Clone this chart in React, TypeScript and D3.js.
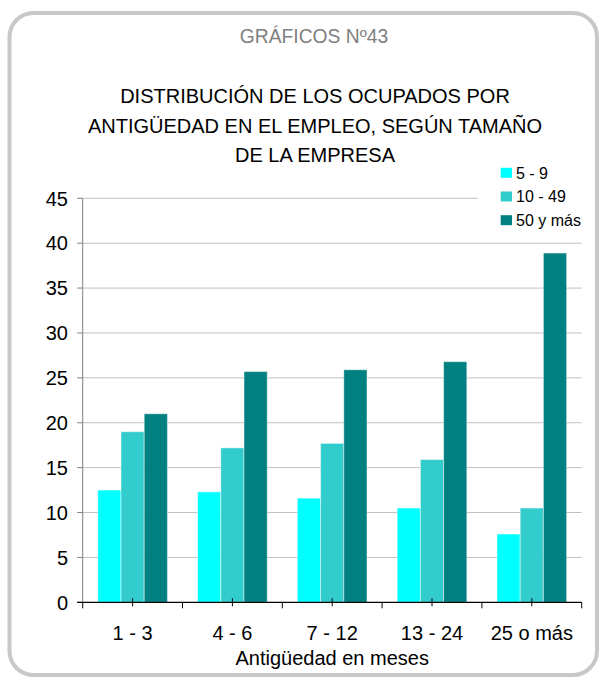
import React from "react";
import * as d3 from "d3";

const categories = ["1 - 3", "4 - 6", "7 - 12", "13 - 24", "25 o más"];
const seriesNames = ["5 - 9", "10 - 49", "50 y más"];
const values5to9 = [12.5, 12.3, 11.6, 10.5, 7.6];
const values10to49 = [19.0, 17.2, 17.7, 15.9, 10.5];
const values50plus = [21.0, 25.7, 25.9, 26.8, 38.9];
const yTicks = [0, 5, 10, 15, 20, 25, 30, 35, 40, 45];
const seriesColors = ["#00FFFF", "#33CCCC", "#008080"];
const titleLines = [
  "DISTRIBUCIÓN DE LOS OCUPADOS POR",
  "ANTIGÜEDAD EN EL EMPLEO, SEGÚN TAMAÑO",
  "DE LA EMPRESA",
];
const headerText = "GRÁFICOS Nº43";
const xAxisTitle = "Antigüedad en meses";

const W = 604;
const H = 680;
const FONT = "'Liberation Sans', Arial, sans-serif";

export default function App() {
  const seriesValues = [values5to9, values10to49, values50plus];
  const left = 82.7;
  const right = 581.7;
  const bottom = 602.3;
  const top = 198.3;

  const x = d3.scaleBand<string>().domain(categories).range([left, right]).paddingInner(0).paddingOuter(0);
  const x1 = d3
    .scaleBand<string>()
    .domain(seriesNames)
    .range([0, x.bandwidth()])
    .paddingInner(0)
    .paddingOuter(0.65);
  const y = d3.scaleLinear().domain([0, 45]).range([bottom, top]);

  const boundaries = categories.map((c) => x(c) as number).concat([right]);

  return (
    <svg
      width={W}
      height={H}
      style={{ position: "absolute", left: 0, top: 0, background: "#fff" }}
      fontFamily={FONT}
    >
      <rect x={0} y={0} width={W} height={H} fill="#fff" />
      <rect x={9.5} y={13} width={587.5} height={662} rx={24} ry={24} fill="#fff" stroke="#c8c8c8" strokeWidth={4} />

      <text x={314} y={42.7} textAnchor="middle" fontSize={19.3} fill="#7f7f7f">
        {headerText}
      </text>
      {titleLines.map((t, i) => (
        <text key={i} x={315} y={103.3 + i * 29.2} textAnchor="middle" fontSize={20} fill="#000">
          {t}
        </text>
      ))}

      {/* gridlines */}
      {yTicks
        .filter((t) => t > 0)
        .map((t) => (
          <line key={t} x1={left} x2={right} y1={y(t)} y2={y(t)} stroke="#c0c0c0" strokeWidth={1} />
        ))}

      {/* bars */}
      {categories.map((c, ci) => (
        <g key={c} transform={`translate(${x(c)},0)`}>
          {seriesNames.map((s, si) => {
            const v = seriesValues[si][ci];
            return (
              <rect
                key={s}
                x={x1(s) as number}
                y={y(v)}
                width={x1.bandwidth()}
                height={y(0) - y(v)}
                fill={seriesColors[si]}
                stroke="rgba(255,255,255,0.45)"
                strokeWidth={1}
              />
            );
          })}
        </g>
      ))}

      {/* y axis */}
      <line x1={left} x2={left} y1={top} y2={bottom} stroke="#808080" strokeWidth={1} />
      {yTicks.map((t) => (
        <g key={t}>
          <line x1={left - 5.5} x2={left} y1={y(t)} y2={y(t)} stroke="#808080" strokeWidth={1} />
          <text x={68} y={y(t)} dy="0.36em" textAnchor="end" fontSize={20} fill="#000">
            {t}
          </text>
        </g>
      ))}

      {/* x axis */}
      <line x1={left - 5.5} x2={right} y1={bottom} y2={bottom} stroke="#000" strokeWidth={1.2} />
      {boundaries.map((b, i) => (
        <line key={i} x1={b} x2={b} y1={bottom} y2={bottom + 6} stroke="#000" strokeWidth={1} />
      ))}
      {categories.map((c) => {
        const cx = (x(c) as number) + x.bandwidth() / 2;
        return (
          <g key={c}>
            <line x1={cx} x2={cx} y1={bottom - 4} y2={bottom + 4} stroke="#000" strokeWidth={1} />
            <text x={cx} y={640} textAnchor="middle" fontSize={20} fill="#000">
              {c}
            </text>
          </g>
        );
      })}
      <text x={(left + right) / 2} y={665} textAnchor="middle" fontSize={20} fill="#000">
        {xAxisTitle}
      </text>

      {/* legend */}
      <rect x={478} y={160} width={114} height={74} fill="#fff" />
      {seriesNames.map((s, i) => {
        const cy = 172.8 + i * 23.7;
        return (
          <g key={s}>
            <rect x={500.7} y={cy - 5} width={11.3} height={10} fill={seriesColors[i]} />
            <text x={516} y={cy + 5.8} fontSize={16} fill="#000">
              {s}
            </text>
          </g>
        );
      })}
    </svg>
  );
}
